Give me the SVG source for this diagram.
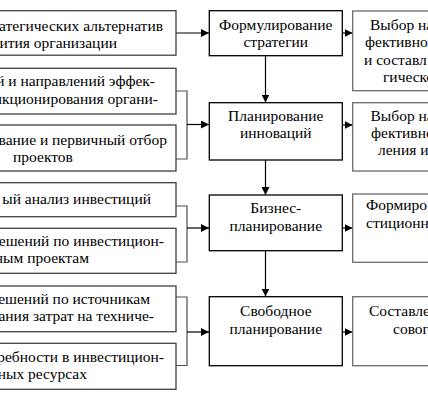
<svg xmlns="http://www.w3.org/2000/svg" width="428" height="400" viewBox="0 0 428 400">
<defs>
<style>
.t{font-family:'Liberation Serif',serif;font-size:15.5px;fill:#000}
.e{text-anchor:end}
.m{text-anchor:middle}
.lb{fill:#fff;stroke:#404040;stroke-width:1.3}
.cb{fill:#fff;stroke:#000;stroke-width:1.3}
.rb{fill:#fff;stroke:#6a6a6a;stroke-width:1.3}
.c{fill:none;stroke:#000;stroke-width:1.2}
.g{fill:none;stroke:#505050;stroke-width:1.2}
</style>
<marker id="a" viewBox="0 0 8 8" refX="8" refY="4" markerWidth="8" markerHeight="8" markerUnits="userSpaceOnUse" orient="auto">
<path d="M0,0 L8,4 L0,8 Z" fill="#000"/>
</marker>
</defs>
<rect width="428" height="400" fill="#fff"/>
<g id="connectors">
<line class="c" x1="176" y1="33" x2="209" y2="33" marker-end="url(#a)"/>
<polyline class="g" points="176,91 187,91 187,159 176,159"/>
<line class="c" x1="187" y1="124.5" x2="209" y2="124.5" marker-end="url(#a)"/>
<polyline class="g" points="176,206 187,206 187,262 176,262"/>
<line class="c" x1="187" y1="228" x2="209" y2="228" marker-end="url(#a)"/>
<polyline class="g" points="176,297 187,297 187,365.5 176,365.5"/>
<line class="c" x1="187" y1="332" x2="209" y2="332" marker-end="url(#a)"/>
<line class="c" x1="265.5" y1="55.5" x2="265.5" y2="102.5" marker-end="url(#a)"/>
<line class="c" x1="265.5" y1="160" x2="265.5" y2="195" marker-end="url(#a)"/>
<line class="c" x1="265.5" y1="250.5" x2="265.5" y2="296.5" marker-end="url(#a)"/>
<line class="c" x1="342" y1="33" x2="352.5" y2="33" marker-end="url(#a)"/>
<line class="c" x1="342" y1="125" x2="352.5" y2="125" marker-end="url(#a)"/>
<line class="c" x1="342" y1="228" x2="352.5" y2="228" marker-end="url(#a)"/>
<line class="c" x1="342" y1="332" x2="352.5" y2="332" marker-end="url(#a)"/>
</g>
<g id="L1"><rect class="lb" x="-100" y="10.7" width="276" height="44.5"/>
<text class="t e" x="163" y="30.5" font-family="Liberation Serif">атегических альтернатив</text>
<text class="t e" x="117" y="48.3" font-family="Liberation Serif">ития организации</text></g>
<g id="L2"><rect class="lb" x="-100" y="68.3" width="276" height="45.7"/>
<text class="t e" x="155" y="86" font-family="Liberation Serif">й и направлений эффек-</text>
<text class="t e" x="158" y="103.5" font-family="Liberation Serif">нкционирования органи-</text></g>
<g id="L3"><rect class="lb" x="-100" y="125" width="276" height="46"/>
<text class="t e" x="167" y="145" font-family="Liberation Serif">вание и первичный отбор</text>
<text class="t m" x="43" y="161.7" font-family="Liberation Serif">проектов</text></g>
<g id="L4"><rect class="lb" x="-100" y="182.7" width="276" height="34"/>
<text class="t e" x="151" y="203.5" font-family="Liberation Serif">ый анализ инвестиций</text></g>
<g id="L5"><rect class="lb" x="-100" y="228.3" width="276" height="45"/>
<text class="t e" x="164" y="246" font-family="Liberation Serif">ешений по инвестицион-</text>
<text class="t e" x="89" y="263.3" font-family="Liberation Serif">ным проектам</text></g>
<g id="L6"><rect class="lb" x="-100" y="286" width="276" height="45.7"/>
<text class="t e" x="150" y="304" font-family="Liberation Serif">ешений по источникам</text>
<text class="t e" x="154" y="320.5" font-family="Liberation Serif">ания затрат на техниче-</text></g>
<g id="L7"><rect class="lb" x="-100" y="343.3" width="276" height="46"/>
<text class="t e" x="164" y="362" font-family="Liberation Serif">ребности в инвестицион-</text>
<text class="t e" x="87" y="379" font-family="Liberation Serif">ных ресурсах</text></g>
<g id="C1"><rect class="cb" x="209.3" y="10.7" width="133" height="45"/>
<text class="t m" x="275.8" y="29.5" font-family="Liberation Serif">Формулирование</text>
<text class="t m" x="275.8" y="47" font-family="Liberation Serif">стратегии</text></g>
<g id="C2"><rect class="cb" x="209.3" y="102.7" width="133" height="57.3"/>
<text class="t m" x="275.8" y="120.7" font-family="Liberation Serif">Планирование</text>
<text class="t m" x="275.8" y="138.3" font-family="Liberation Serif">инноваций</text></g>
<g id="C3"><rect class="cb" x="209.3" y="195" width="133" height="55.7"/>
<text class="t m" x="275.8" y="212.7" font-family="Liberation Serif">Бизнес-</text>
<text class="t m" x="275.8" y="231" font-family="Liberation Serif">планирование</text></g>
<g id="C4"><rect class="cb" x="209.3" y="296.7" width="133" height="69"/>
<text class="t m" x="275.8" y="316" font-family="Liberation Serif">Свободное</text>
<text class="t m" x="275.8" y="334.3" font-family="Liberation Serif">планирование</text></g>
<g id="R1"><rect class="rb" x="352.7" y="11" width="100" height="79.7"/>
<text class="t" x="370" y="29.5" font-family="Liberation Serif">Выбор на</text>
<text class="t" x="365" y="47" font-family="Liberation Serif">фективно</text>
<text class="t" x="364" y="64.5" font-family="Liberation Serif">и составл</text>
<text class="t" x="383" y="82" font-family="Liberation Serif">гическо</text></g>
<g id="R2"><rect class="rb" x="352.7" y="102.7" width="100" height="68.3"/>
<text class="t" x="370.5" y="120.7" font-family="Liberation Serif">Выбор на</text>
<text class="t" x="371" y="137.5" font-family="Liberation Serif">фективно</text>
<text class="t" x="378" y="155" font-family="Liberation Serif">ления и</text></g>
<g id="R3"><rect class="rb" x="352.7" y="194" width="100" height="68.3"/>
<text class="t" x="366" y="210" font-family="Liberation Serif">Формиро</text>
<text class="t" x="366" y="228" font-family="Liberation Serif">стиционн</text></g>
<g id="R4"><rect class="rb" x="352.7" y="296.7" width="100" height="69"/>
<text class="t" x="369" y="316" font-family="Liberation Serif">Составле</text>
<text class="t" x="393" y="333.5" font-family="Liberation Serif">совог</text></g>
</svg>
